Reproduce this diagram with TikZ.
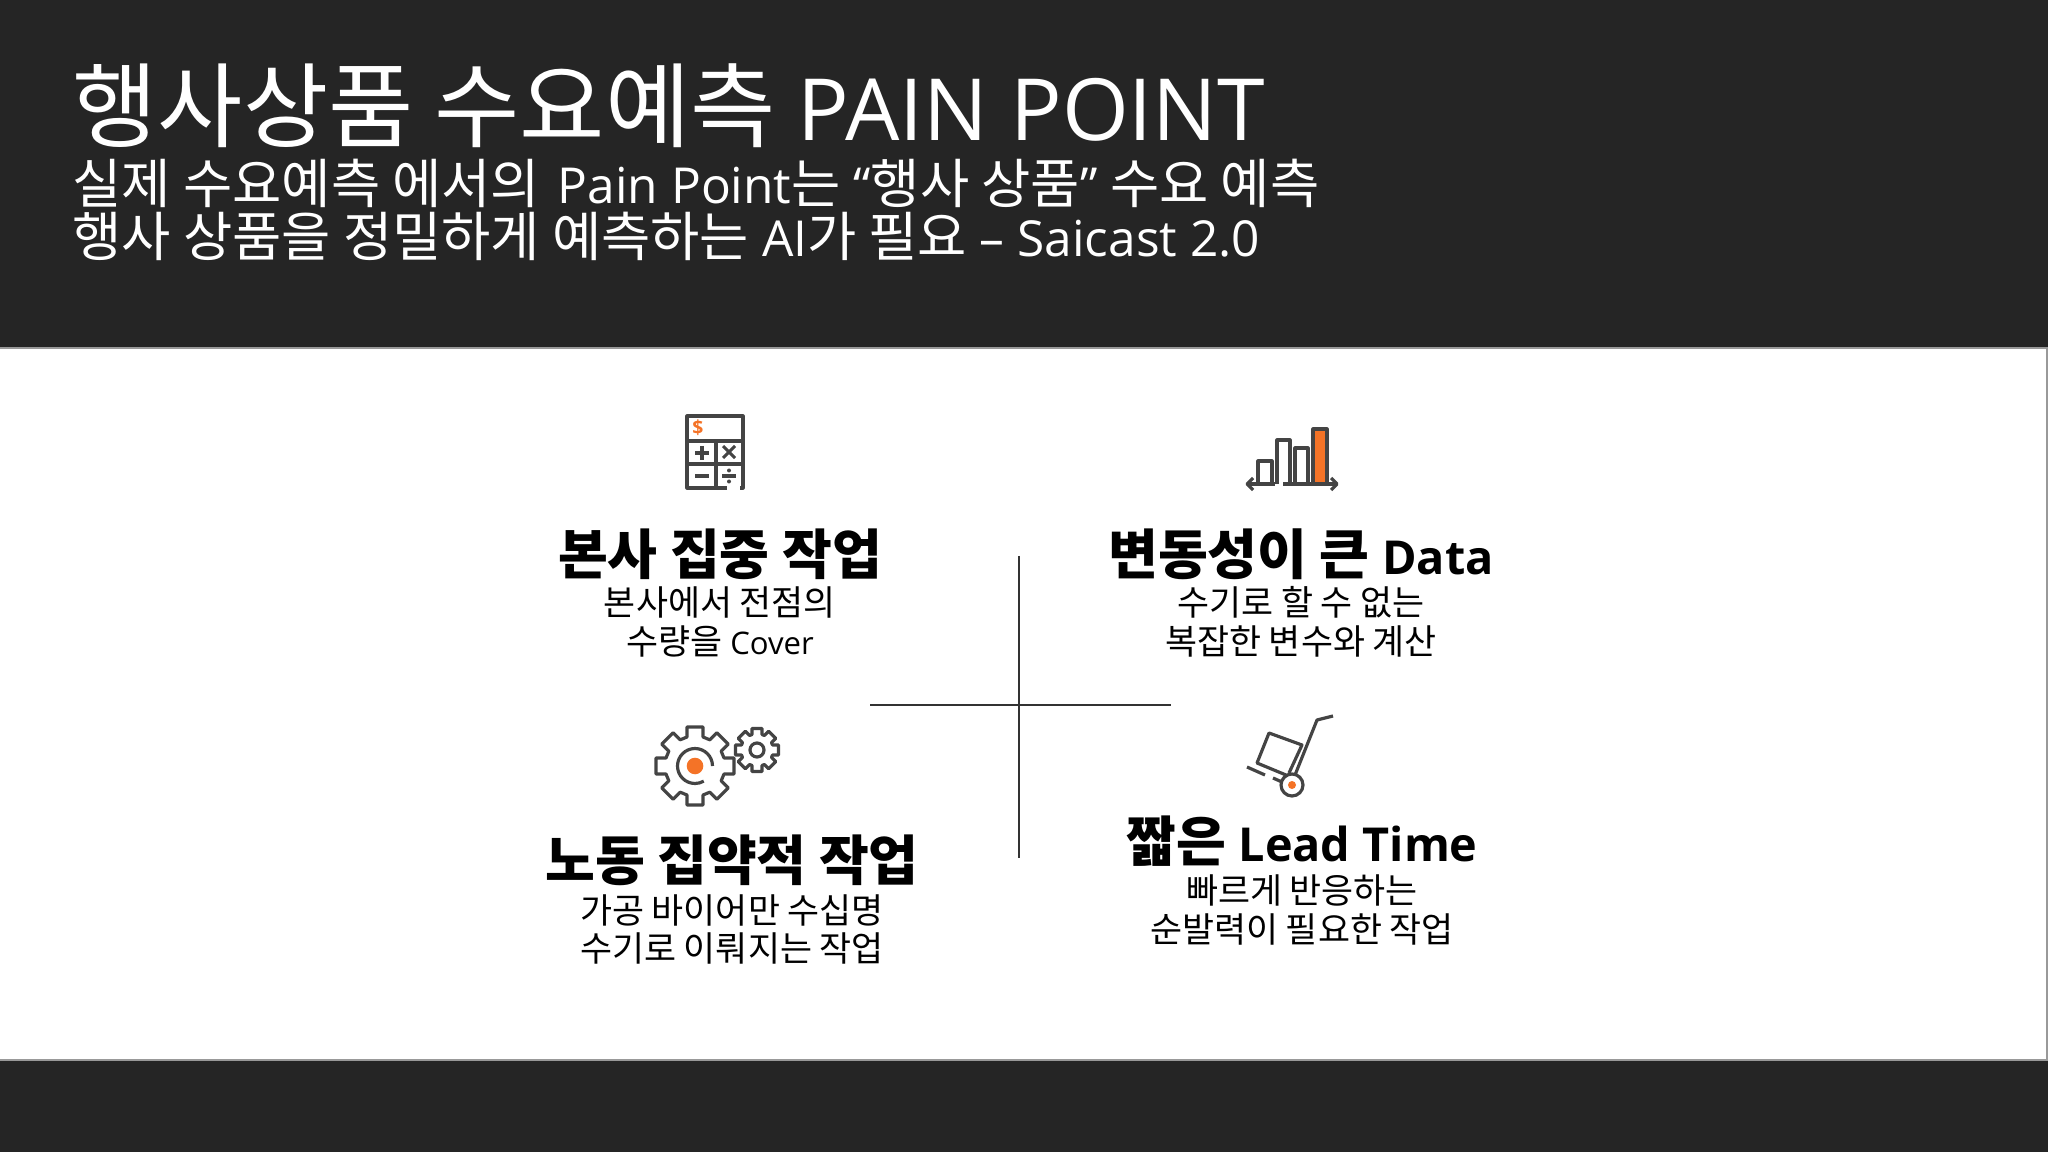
\documentclass[tikz,border=0pt]{standalone}
\usepackage{fontspec}
\setmainfont{Open Sans}
\newfontfamily\kr[Scale=1.12]{Noto Sans CJK KR}
\newfontfamily\krhead[Scale=1.08]{Noto Sans CJK KR}
\definecolor{bgdark}{HTML}{252525}
\definecolor{icongray}{HTML}{444444}
\definecolor{iconorange}{HTML}{F47327}
\tikzset{
	headtitle/.style={anchor=base west, text=white, inner sep=0pt, font=\fontsize{24.4}{30}\selectfont},
	headsub/.style={anchor=base west, text=white, inner sep=0pt, font=\fontsize{14.1}{16}\selectfont},
	boxtitle/.style={anchor=base, text=black, inner sep=0pt, font=\fontsize{13.75}{18}\selectfont\bfseries},
	boxtext/.style={anchor=base, text=black, inner sep=0pt, font=\fontsize{8.84}{12}\selectfont},
	icon/.style={draw=icongray, line width=0.9pt, line join=round},
	crossline/.style={draw=black!80, line width=0.4pt},
	panelrim/.style={draw=black!40, line width=0.7pt}
}
\usetikzlibrary{calc}
% one gear: centre, outer radius, root radius, half width of tooth
\newcommand{\geardraw}[4]{
	\draw[icon] ($(#1)+(0:#3)+(-90:#4)$) foreach \a in {0,45,...,315} {
		-- ($(#1)+({\a}:#3)+({\a-90}:#4)$) -- ($(#1)+({\a}:#2)+({\a-90}:#4)$)
		-- ($(#1)+({\a}:#2)+({\a+90}:#4)$) -- ($(#1)+({\a}:#3)+({\a+90}:#4)$)
	} -- cycle;
}
\begin{document}
\begin{tikzpicture}[x=0.01cm, y=-0.01cm, line cap=butt]
	\useasboundingbox (0,0) rectangle (2048,1152);
	\fill[bgdark] (-2,-2) rectangle (2050,1154);
	\fill[white] (-2,348) rectangle (2050,1060);
	\draw[panelrim] (-2,348)--(2047,348)--(2047,1060)--(-2,1060);
	% header
	\node[headtitle] (title) at (72,141) {{\krhead 행사상품 수요예측} PAIN POINT};
	\node[headsub] (subone) at (72,204) {{\krhead 실제 수요예측 에서의}\hspace{1.4pt} Pain Point{\krhead 는} “{\krhead 행사 상품}” {\krhead 수요 예측}};
	\node[headsub] (subtwo) at (72,257) {{\krhead 행사 상품을 정밀하게 예측하는} AI{\krhead 가 필요} – Saicast 2.0};
	% cross
	\coordinate (crosstop) at (1019,556);
	\coordinate (crossbot) at (1019,858);
	\coordinate (crossleft) at (870,705);
	\coordinate (crossright) at (1171,705);
	\draw[crossline] (crosstop)--(crossbot);
	\draw[crossline] (crossleft)--(crossright);
	% top left
	\node[boxtitle] (tltitle) at (720,574) {\kr 본사 집중 작업};
	\node[boxtext] (tlone) at (720,616) {\kr 본사에서 전점의};
	\node[boxtext] (tltwo) at (720,655) {{\kr 수량을} Cover};
	% top right
	\node[boxtitle] (trtitle) at (1301,574) {{\kr 변동성이 큰} {\fontsize{13.3}{18}\selectfont Data}};
	\node[boxtext] (trone) at (1301,616) {\kr 수기로 할 수 없는};
	\node[boxtext] (trtwo) at (1301,655) {\kr 복잡한 변수와 계산};
	% bottom left
	\node[boxtitle] (bltitle) at (732,880) {\kr 노동 집약적 작업};
	\node[boxtext] (blone) at (732,923) {\kr 가공 바이어만 수십명};
	\node[boxtext] (bltwo) at (732,961) {\kr 수기로 이뤄지는 작업};
	% bottom right
	\node[boxtitle] (brtitle) at (1302,861) {{\kr 짧은} {\fontsize{13.3}{18}\selectfont Lead Time}};
	\node[boxtext] (brone) at (1302,903) {\kr 빠르게 반응하는};
	\node[boxtext] (brtwo) at (1302,942) {\kr 순발력이 필요한 작업};
	% calculator
	\draw[icon] (727,488)--(687,488)--(687,416)--(743,416)--(743,488)--(740,488);
	\draw[icon] (687,441)--(743,441) (687,464)--(743,464) (716,441)--(716,488);
	\node[text=iconorange, inner sep=0pt, font=\fontsize{5.5}{6}\selectfont\bfseries] (dollar) at (698,428) {\$};
	\draw[icon] (695,453)--(709,453) (702,446)--(702,460);
	\draw[icon] (723,446)--(735,458) (735,446)--(723,458);
	\draw[icon] (695,476)--(709,476) (722,476)--(736,476);
	\fill[icongray] (729,470.5) circle (2) (729,481.5) circle (2);
	% bars
	\fill[iconorange] (1313,429) rectangle (1327,484);
	\draw[icon] (1258,484)--(1258,461)--(1272,461)--(1272,484);
	\draw[icon] (1277,484)--(1277,440)--(1290,440)--(1290,484);
	\draw[icon] (1295,484)--(1295,448)--(1308,448)--(1308,484);
	\draw[icon] (1313,484)--(1313,429)--(1327,429)--(1327,484);
	\draw[icon] (1247,484)--(1275,484) (1283,484)--(1337,484);
	\draw[icon] (1253,478)--(1247,484)--(1253,490) (1331,478)--(1337,484)--(1331,490);
	% gears
	\geardraw{695,766}{39}{29}{8}
	\geardraw{757,750}{21.5}{15.5}{5}
	\draw[icon] (757,750) circle (7);
	\fill[iconorange] (695,766) circle (8.3);
	\draw[icon] (712.5,766) arc (0:-300:17.5);
	% hand truck
	\draw[icon] (1289,773)--(1302,745)--(1269,733)--(1257,763)--(1286,775);
	\draw[icon] (1295,775)--(1317,720)--(1333,716);
	\draw[icon] (1247,767)--(1265,775) (1273,778)--(1282,782);
	\draw[icon] (1292,785) circle (11);
	\fill[iconorange] (1292,785) circle (4);
\end{tikzpicture}
\end{document}
